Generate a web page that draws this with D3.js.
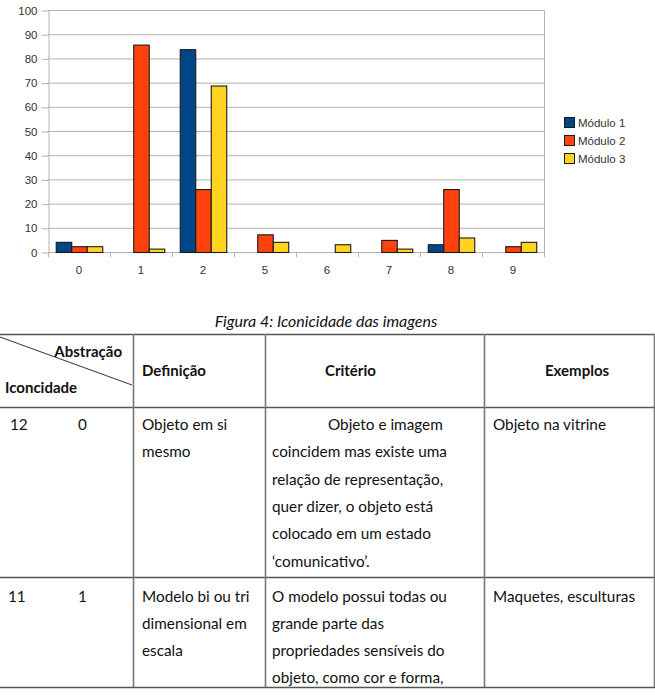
<!DOCTYPE html>
<html>
<head>
<meta charset="utf-8">
<script src="https://cdn.jsdelivr.net/npm/d3@7"></script>
<style>
  html, body { margin: 0; padding: 0; background: #fff; }
  svg { display: block; }
</style>
</head>
<body>
<svg id="chart" width="655" height="697"></svg>
<script>
// ---------- DATA ----------
const categories = ["0", "1", "2", "5", "6", "7", "8", "9"];
const seriesNames = ["Módulo 1", "Módulo 2", "Módulo 3"];
const modulo1 = [4.2, 0, 83.8, 0, 0, 0, 3.2, 0];
const modulo2 = [2.4, 85.7, 26, 7.3, 0, 5, 26, 2.4];
const modulo3 = [2.4, 1.4, 68.8, 4.2, 3.2, 1.4, 6, 4.2];
const yTickValues = [0, 10, 20, 30, 40, 50, 60, 70, 80, 90, 100];

const captionText = "Figura 4: Iconicidade das imagens";
const headerCorner = ["Abstração", "Iconcidade"];
const headerCols = ["Definição", "Critério", "Exemplos"];
const rowIconicity = ["12", "11"];
const rowAbstraction = ["0", "1"];
const rowDefinition = [["Objeto em si", "mesmo"], ["Modelo bi ou tri", "dimensional em", "escala"]];
const rowCriterion = [
  ["Objeto e imagem", "coincidem mas existe uma", "relação de representação,", "quer dizer, o objeto está", "colocado em um estado", "‘comunicativo’."],
  ["O modelo possui todas ou", "grande parte das", "propriedades sensíveis do", "objeto, como cor e forma,"]
];
const rowExamples = [["Objeto na vitrine"], ["Maquetes, esculturas"]];

// ---------- CHART ----------
const svg = d3.select("#chart");
const colors = ["#004586", "#ff420e", "#ffd320"];
const seriesValues = [modulo1, modulo2, modulo3];
const chartFont = "'Liberation Sans', Arial, sans-serif";
const gridColor = "#b3b3b3";

const plot = { left: 48, right: 544, top: 10, bottom: 252 };

const x0 = d3.scaleBand().domain(categories)
  .range([plot.left, plot.right]).paddingInner(0.25).paddingOuter(0.125);
const x1 = d3.scaleBand().domain(seriesNames).range([0, x0.bandwidth()]);
const y = d3.scaleLinear().domain([0, 100]).range([plot.bottom, plot.top]);

const g = svg.append("g");

// gridlines
g.append("g").selectAll("line").data(yTickValues).join("line")
  .attr("x1", plot.left).attr("x2", plot.right)
  .attr("y1", d => y(d) + 0.5).attr("y2", d => y(d) + 0.5)
  .attr("stroke", gridColor).attr("stroke-width", 1);

// right border
g.append("line").attr("x1", plot.right + 0.5).attr("x2", plot.right + 0.5)
  .attr("y1", plot.top).attr("y2", plot.bottom + 5)
  .attr("stroke", gridColor);

// y axis
const yAxis = g.append("g").attr("transform", `translate(${plot.left + 0.5},0.5)`)
  .call(d3.axisLeft(y).tickValues(yTickValues).tickSize(7).tickSizeOuter(0).tickPadding(4));
yAxis.select(".domain").attr("stroke", gridColor);
yAxis.selectAll(".tick line").attr("stroke", gridColor);
yAxis.selectAll(".tick text").attr("fill", "#333").style("font-family", chartFont).style("font-size", "11.5px");

// x boundary ticks
const step = x0.step();
const boundaries = categories.map(c => x0(c) - (step - x0.bandwidth()) / 2);
g.append("g").selectAll("line").data(boundaries).join("line")
  .attr("x1", d => Math.round(d) + 0.5).attr("x2", d => Math.round(d) + 0.5)
  .attr("y1", plot.bottom).attr("y2", plot.bottom + 5)
  .attr("stroke", gridColor);

// x labels
const xAxis = g.append("g").attr("transform", `translate(0,${plot.bottom})`)
  .call(d3.axisBottom(x0).tickSize(0).tickPadding(13.5));
xAxis.select(".domain").remove();
xAxis.selectAll(".tick text").attr("fill", "#333").style("font-family", chartFont).style("font-size", "11.5px");

// bars
const barData = [];
categories.forEach((c, i) => {
  seriesNames.forEach((s, j) => {
    const v = seriesValues[j][i];
    if (v > 0) barData.push({ c, s, v, j });
  });
});
g.append("g").selectAll("rect").data(barData).join("rect")
  .attr("x", d => x0(d.c) + x1(d.s) + 0.5)
  .attr("y", d => y(d.v) + 0.5)
  .attr("width", x1.bandwidth())
  .attr("height", d => y(0) - y(d.v))
  .attr("fill", d => colors[d.j])
  .attr("stroke", "#1a1a1a").attr("stroke-width", 1.1);

// legend
const legend = g.append("g").selectAll("g").data(seriesNames).join("g")
  .attr("transform", (d, i) => `translate(564,${117 + i * 18})`);
legend.append("rect").attr("x", 0.5).attr("y", 0.5).attr("width", 10).attr("height", 10)
  .attr("fill", (d, i) => colors[i]).attr("stroke", "#1a1a1a");
legend.append("text").attr("x", 14).attr("y", 9.5).text(d => d)
  .attr("fill", "#333").style("font-family", chartFont).style("font-size", "11.5px");

// ---------- CAPTION ----------
const docFont = "Lato, 'Open Sans', sans-serif";
svg.append("text").attr("x", 326).attr("y", 327).attr("text-anchor", "middle")
  .style("font-family", docFont).style("font-style", "italic").style("font-size", "16px")
  .attr("fill", "#111").text(captionText);

// ---------- TABLE ----------
const t = svg.append("g");
const lineColor = "#555";
const hLines = [334, 407, 577, 687];
const vLines = [133, 265, 484, 654];
t.selectAll("line.h").data(hLines).join("line").attr("class", "h")
  .attr("x1", 0).attr("x2", 655).attr("y1", d => d + 0.5).attr("y2", d => d + 0.5)
  .attr("stroke", lineColor).attr("stroke-width", 1.3);
t.selectAll("line.v").data(vLines).join("line").attr("class", "v")
  .attr("x1", d => d + 0.5).attr("x2", d => d + 0.5).attr("y1", 334).attr("y2", 687)
  .attr("stroke", "#777").attr("stroke-width", 1.6);
t.append("line").attr("x1", 0).attr("y1", 337).attr("x2", 132).attr("y2", 385)
  .attr("stroke", "#333").attr("stroke-width", 1);

const txt = (x, yy, s, opts = {}) => t.append("text").attr("x", x).attr("y", yy)
  .attr("text-anchor", opts.anchor || "start")
  .style("font-family", docFont).style("font-size", opts.bold ? "15px" : "15.3px")
  .style("font-weight", opts.bold ? "bold" : "normal")
  .attr("fill", "#111").text(s);

txt(122, 357, headerCorner[0], { bold: true, anchor: "end" });
txt(5, 393, headerCorner[1], { bold: true });
const headerX = [142, 325, 545];
headerCols.forEach((h, i) => txt(headerX[i], 376, h, { bold: true }));

const rowBase = [430, 602];
const lineH = [27.3, 27];
const iconX = [10, 8];
rowBase.forEach((b, r) => {
  txt(iconX[r], b, rowIconicity[r]);
  txt(78, b, rowAbstraction[r]);
  rowDefinition[r].forEach((s, k) => txt(142, b + k * lineH[r], s));
  rowCriterion[r].forEach((s, k) => txt(r === 0 && k === 0 ? 328 : 272, b + k * lineH[r], s));
  rowExamples[r].forEach((s, k) => txt(493, b + k * lineH[r], s));
});
</script>
</body>
</html>
